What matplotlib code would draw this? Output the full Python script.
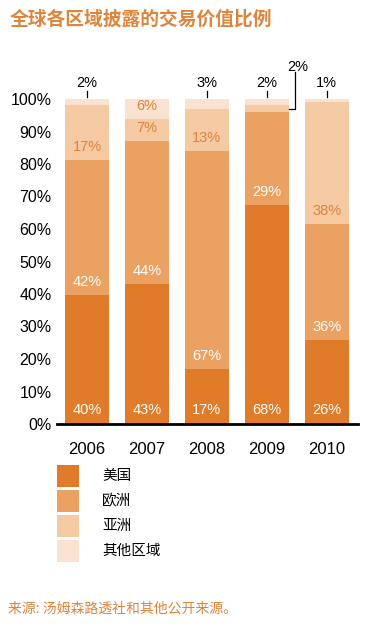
import numpy as np
import matplotlib
matplotlib.use("Agg")
import matplotlib.pyplot as plt
from matplotlib.patches import Rectangle

plt.rcParams['font.family'] = ['Liberation Sans', 'Noto Sans CJK SC', 'DejaVu Sans']

# ----- datos -----
years = ['2006', '2007', '2008', '2009', '2010']
regions = ['美国', '欧洲', '亚洲', '其他区域']
us = [40, 43, 17, 68, 26]
europe = [42, 44, 67, 29, 36]
asia = [17, 7, 13, 2, 38]
other = [2, 6, 3, 2, 1]

colors = ['#e07b29', '#eaa162', '#f5c9a1', '#f9e2cf']
orange_txt = '#de843b'
title = '全球各区域披露的交易价值比例'
source = '来源: 汤姆森路透社和其他公开来源。'

W, H = 372, 624
fig = plt.figure(figsize=(W / 100, H / 100), dpi=100)
ax = fig.add_axes([57 / W, 1 - 424 / H, (358 - 57) / W, (424 - 99) / H])

series = [us, europe, asia, other]
vals = np.array(series, dtype=float)
heights = vals / vals.sum(axis=0) * 100
x = np.arange(len(years))
bw = 0.73

bottom = np.zeros(len(years))
for k in range(len(series)):
    ax.bar(x, heights[k], bw, bottom=bottom, color=colors[k], linewidth=0)
    for i in range(len(years)):
        v = series[k][i]
        tc = 'white' if k < 2 else orange_txt
        if v >= 5:
            off = 4.3 if k == 0 else 4.0
            ax.text(x[i], bottom[i] + off, f"{v}%", ha='center', va='center',
                    color=tc, fontsize=10.5)
        elif k == 3:
            # etiqueta arriba de la barra con pequeña marca
            ax.plot([x[i], x[i]], [100.6, 102.5], color='black', lw=0.9, clip_on=False)
            ax.text(x[i], 105, f"{v}%", ha='center', va='center', fontsize=10.5, clip_on=False)
        else:
            # corchete al lado derecho
            ym = bottom[i] + heights[k][i] / 2
            xr = x[i] + bw / 2
            ax.plot([xr, xr + 0.1, xr + 0.1], [ym, ym, 108.3], color='black', lw=0.9, clip_on=False)
            ax.text(xr + 0.15, 109.8, f"{v}%", ha='center', va='center', fontsize=10.5, clip_on=False)
    bottom += heights[k]

ax.set_xlim(-0.5, 4.52)
ax.set_ylim(0, 100)
ax.set_yticks(np.arange(0, 101, 10))
ax.set_yticklabels([f"{t}%" for t in range(0, 101, 10)], fontsize=11.5)
ax.set_xticks(x)
ax.set_xticklabels(years, fontsize=12)
ax.tick_params(axis='both', length=0)
ax.tick_params(axis='x', pad=13)
ax.tick_params(axis='y', pad=4)
for s in ['top', 'right', 'left']:
    ax.spines[s].set_visible(False)
ax.spines['bottom'].set_linewidth(2)
ax.spines['bottom'].set_color('black')

# leyenda manual
for k, name in enumerate(regions):
    y0 = 465 + k * 25
    fig.add_artist(Rectangle((57 / W, 1 - (y0 + 22) / H), 22 / W, 22 / H,
                             transform=fig.transFigure, color=colors[k], lw=0))
    fig.text(102 / W, 1 - (y0 + 11) / H, name, ha='left', va='center', fontsize=10.5,
             family=['Noto Sans CJK SC'])

fig.text(10 / W, 1 - 19 / H, title, ha='left', va='center', fontsize=13.5,
         fontweight='bold', color=orange_txt, family=['Noto Sans CJK SC'])
fig.text(8 / W, 1 - 609 / H, source, ha='left', va='center', fontsize=10,
         color=orange_txt, family=['Noto Sans CJK SC'])

fig.savefig('out.png', dpi=100)
